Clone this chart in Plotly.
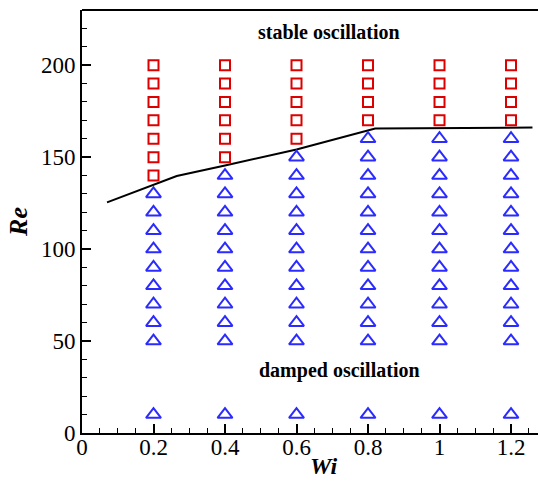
import plotly.graph_objects as go

wi_values = [0.2, 0.4, 0.6, 0.8, 1.0, 1.2]
# stable oscillation (red squares)
stable_re = {
    0.2: [140, 150, 160, 170, 180, 190, 200],
    0.4: [150, 160, 170, 180, 190, 200],
    0.6: [160, 170, 180, 190, 200],
    0.8: [170, 180, 190, 200],
    1.0: [170, 180, 190, 200],
    1.2: [170, 180, 190, 200],
}
# damped oscillation (blue triangles)
damped_re = {
    0.2: [10, 50, 60, 70, 80, 90, 100, 110, 120, 130],
    0.4: [10, 50, 60, 70, 80, 90, 100, 110, 120, 130, 140],
    0.6: [10, 50, 60, 70, 80, 90, 100, 110, 120, 130, 140, 150],
    0.8: [10, 50, 60, 70, 80, 90, 100, 110, 120, 130, 140, 150, 160],
    1.0: [10, 50, 60, 70, 80, 90, 100, 110, 120, 130, 140, 150, 160],
    1.2: [10, 50, 60, 70, 80, 90, 100, 110, 120, 130, 140, 150, 160],
}
boundary_wi = [0.07, 0.265, 0.4, 0.6, 0.82, 1.26]
boundary_re = [125.4, 139.7, 145.5, 154.2, 165.6, 166.1]

x_ticks = [0, 0.2, 0.4, 0.6, 0.8, 1.0, 1.2]
x_ticklabels = ["0", "0.2", "0.4", "0.6", "0.8", "1", "1.2"]
y_ticks = [0, 50, 100, 150, 200]

sx, sy = [], []
for w in wi_values:
    for r in stable_re[w]:
        sx.append(w); sy.append(r)
dx, dy = [], []
for w in wi_values:
    for r in damped_re[w]:
        dx.append(w); dy.append(r)

font_family = "Liberation Serif"

fig = go.Figure()
fig.add_trace(go.Scatter(x=boundary_wi, y=boundary_re, mode="lines",
                         line=dict(color="black", width=2), showlegend=False))
fig.add_trace(go.Scatter(x=sx, y=sy, mode="markers", showlegend=False,
                         marker=dict(symbol="square-open", size=10,
                                     color="#dd0000", line=dict(width=2, color="#dd0000"))))
fig.add_trace(go.Scatter(x=dx, y=dy, mode="markers", showlegend=False,
                         marker=dict(symbol="triangle-up-open", size=13,
                                     color="#2b2bff", line=dict(width=2, color="#2b2bff"))))

fig.update_layout(
    width=538, height=482,
    margin=dict(l=82, r=0, t=10, b=49),
    plot_bgcolor="white", paper_bgcolor="white",
    font=dict(family=font_family, color="black"),
    xaxis=dict(range=[0, 1.2755], showgrid=False, zeroline=False, automargin=False,
               showline=True, linecolor="black", linewidth=2,
               tickmode="array", tickvals=x_ticks, ticktext=x_ticklabels,
               ticks="inside", ticklen=9, tickwidth=1.5, tickcolor="black",
               ticklabelstandoff=-8,
               tickfont=dict(size=23, family=font_family),
               minor=dict(dtick=0.05, tick0=0, ticks="inside", ticklen=5,
                          tickwidth=1, tickcolor="black")),
    yaxis=dict(range=[0, 230], showgrid=False, zeroline=False, automargin=False,
               showline=True, linecolor="black", linewidth=2,
               tickmode="array", tickvals=y_ticks,
               ticks="inside", ticklen=9, tickwidth=1.5, tickcolor="black",
               tickfont=dict(size=23, family=font_family),
               minor=dict(dtick=10, tick0=0, ticks="inside", ticklen=5,
                          tickwidth=1, tickcolor="black"),
               title=dict(text="<b><i>Re</i></b>", font=dict(size=26, family=font_family),
                          standoff=6)),
    shapes=[dict(type="line", xref="paper", yref="paper", x0=0, x1=1, y0=1, y1=1,
                 line=dict(color="black", width=2))],
    annotations=[
        dict(x=0.675, y=-0.078, xref="x", yref="paper", yanchor="middle",
             text="<b><i>Wi</i></b>", showarrow=False,
             font=dict(size=24, family=font_family)),
        dict(x=0.69, y=218, xref="x", yref="y", text="<b>stable oscillation</b>",
             showarrow=False, font=dict(size=20, family=font_family)),
        dict(x=0.72, y=34, xref="x", yref="y", text="<b>damped oscillation</b>",
             showarrow=False, font=dict(size=20, family=font_family)),
    ],
)

fig.write_html("out.html")
